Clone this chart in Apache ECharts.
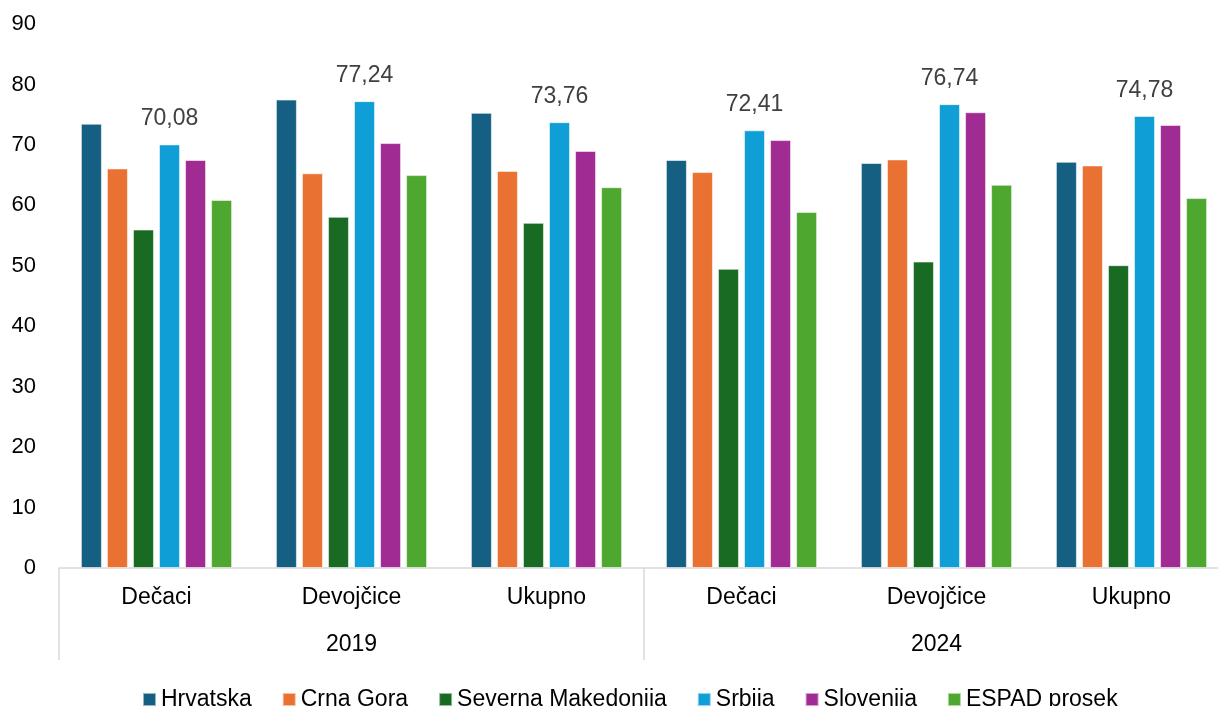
<!DOCTYPE html>
<html>
<head>
<meta charset="utf-8">
<script src="https://cdn.jsdelivr.net/npm/echarts@6/dist/echarts.min.js"></script>
<style>
  html, body { margin: 0; padding: 0; background: #fff; overflow: hidden; }
  /* the plot runs a few pixels past the right edge of the window, as in the source */
  #main { width: 1229px; height: 706px; }
</style>
</head>
<body>
<div id="main"></div>
<script>
// categories
var groups = ['Dečaci', 'Devojčice', 'Ukupno', 'Dečaci', 'Devojčice', 'Ukupno'];
var years = ['2019', '2024'];
var yTicks = [0, 90, 10]; // min, max, interval

// series values
var hrvatska   = [73.5, 77.5, 75.3, 67.5, 67.0, 67.2];
var crnaGora   = [66.1, 65.3, 65.7, 65.5, 67.6, 66.6];
var sevMak     = [56.0, 58.1, 57.1, 49.5, 50.7, 50.1];
var srbija     = [70.08, 77.24, 73.76, 72.41, 76.74, 74.78];
var slovenija  = [67.5, 70.3, 69.0, 70.8, 75.4, 73.3];
var espad      = [60.9, 65.0, 63.0, 58.9, 63.4, 61.2];

var names  = ['Hrvatska', 'Crna Gora', 'Severna Makedonija', 'Srbija', 'Slovenija', 'ESPAD prosek'];
var colors = ['#156082', '#E97132', '#196B24', '#0F9ED5', '#A02B93', '#4EA72E'];
var values = [hrvatska, crnaGora, sevMak, srbija, slovenija, espad];

var font = 'Liberation Sans, Arial, sans-serif';

var series = [];
for (var i = 0; i < names.length; i++) {
    var s = {
        name: names[i],
        type: 'bar',
        xAxisIndex: 0,
        barWidth: 21,
        barGap: '24%',
        itemStyle: {
            color: colors[i],
            borderColor: 'rgba(255,255,255,0.55)',
            borderWidth: 1
        },
        data: values[i]
    };
    if (names[i] === 'Srbija') {
        s.label = {
            show: true,
            position: 'top',
            distance: 14,
            color: '#404040',
            fontSize: 23,
            fontFamily: font,
            formatter: function (p) {
                return p.value.toFixed(2).replace('.', ',');
            }
        };
    }
    series.push(s);
}

var chart = echarts.init(document.getElementById('main'));
chart.setOption({
    animation: false,
    color: colors,
    textStyle: { fontFamily: font },
    grid: {
        left: 59,
        right: 0,
        top: 24,
        bottom: 138
    },
    legend: {
        top: 683,
        left: 137,
        icon: 'rect',
        itemWidth: 13,
        itemHeight: 13,
        itemGap: 30,
        textStyle: { fontSize: 23, color: '#000', fontFamily: font },
        data: names
    },
    xAxis: [
        {
            type: 'category',
            data: groups,
            position: 'bottom',
            axisLine: { show: true, lineStyle: { color: '#d9d9d9', width: 1.5 } },
            axisTick: { show: false },
            axisLabel: { color: '#000', fontSize: 23, margin: 18, fontFamily: font },
            splitLine: { show: false }
        },
        {
            type: 'category',
            data: years,
            position: 'bottom',
            axisLine: { show: false },
            axisTick: {
                show: true,
                length: 92,
                lineStyle: { color: '#d9d9d9', width: 1.5 }
            },
            axisLabel: { color: '#000', fontSize: 23, margin: 65, fontFamily: font },
            splitLine: { show: false }
        }
    ],
    yAxis: {
        type: 'value',
        min: yTicks[0],
        max: yTicks[1],
        interval: yTicks[2],
        axisLine: { show: false },
        axisTick: { show: false },
        splitLine: { show: false },
        axisLabel: { color: '#000', fontSize: 22, margin: 23, fontFamily: font }
    },
    series: series
});
</script>
</body>
</html>
